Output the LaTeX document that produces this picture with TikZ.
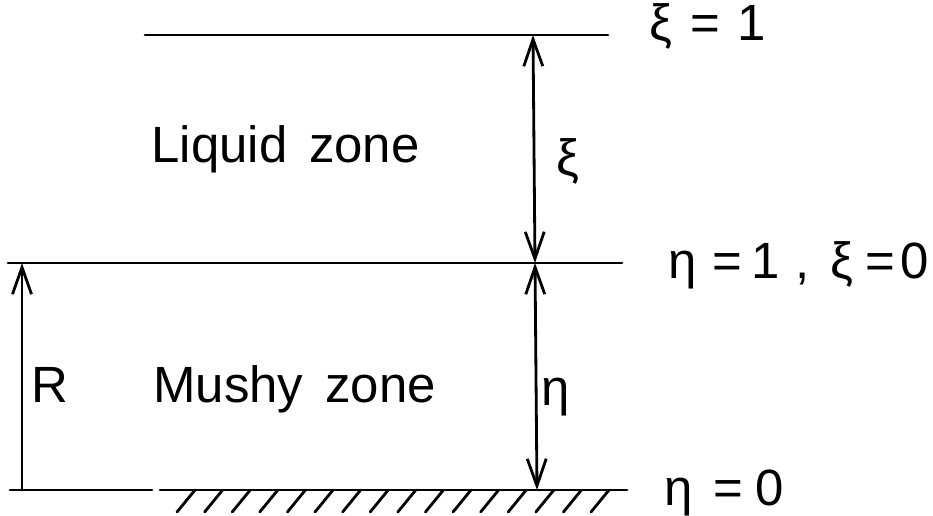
\documentclass[tikz,border=0pt]{standalone}
\usepackage{fontspec}
\setmainfont{Liberation Sans}
\usetikzlibrary{arrows.meta}

\begin{document}
\begin{tikzpicture}[x=0.02cm, y=-0.02cm, line cap=round, line join=round, line width=1.6pt,
  dim/.style={{Straight Barb[length=0.54cm, width=0.38cm]}-{Straight Barb[length=0.54cm, width=0.38cm]}},
  lbl/.style={font=\fontsize{29}{34}\selectfont, inner sep=0pt, anchor=base west}]
  \useasboundingbox (0,0) rectangle (933,515);

  \coordinate (tl) at (145,35);
  \coordinate (tr) at (608,35);
  \coordinate (ml) at (8,263);
  \coordinate (mr) at (622,263);
  \coordinate (bl) at (10,490);
  \coordinate (bm) at (152,490);
  \coordinate (gl) at (160,490);
  \coordinate (gr) at (627,490);

  \coordinate (Rb) at (22,490);
  \coordinate (Rt) at (22,263);
  \coordinate (xt) at (533,35);
  \coordinate (xb) at (535,263);
  \coordinate (eb) at (537,490);

  \draw (tl) -- (tr); % xi = 1
  \draw (ml) -- (mr); % interface
  \draw (bl) -- (bm);
  \draw (gl) -- (gr); % ground
  \foreach \i in {0,...,15}
    \draw ({195+27.6*\i},490) -- ++(-18,22);

  \draw[-{Straight Barb[length=0.54cm, width=0.38cm]}] (Rb) -- (Rt);
  \draw[dim] (xb) -- (xt);
  \draw[dim] (xb) -- (eb);

  \node[lbl] (liquid) at (150,162) {Liquid\hspace{0.15em} zone};
  \node[lbl] (mushy) at (152,402) {Mushy\hspace{0.15em} zone};
  \node[lbl] (rlbl) at (30,402) {R};
  \node[lbl] (xilbl) at (555,175) {ξ};
  \node[lbl] (etalbl) at (540,405) {η};

  \node[lbl] (top) at (648,40) {ξ\hspace{0.35em}=\hspace{0.35em}1};
  \node[lbl] (mid) at (667,278) {η\hspace{0.3em}=\hspace{0.2em}1\hspace{0.3em},\hspace{0.4em}ξ\hspace{0.25em}=\hspace{0.1em}0};
  \node[lbl] (bot) at (663,505) {η\hspace{0.4em}=\hspace{0.25em}0};
\end{tikzpicture}
\end{document}
